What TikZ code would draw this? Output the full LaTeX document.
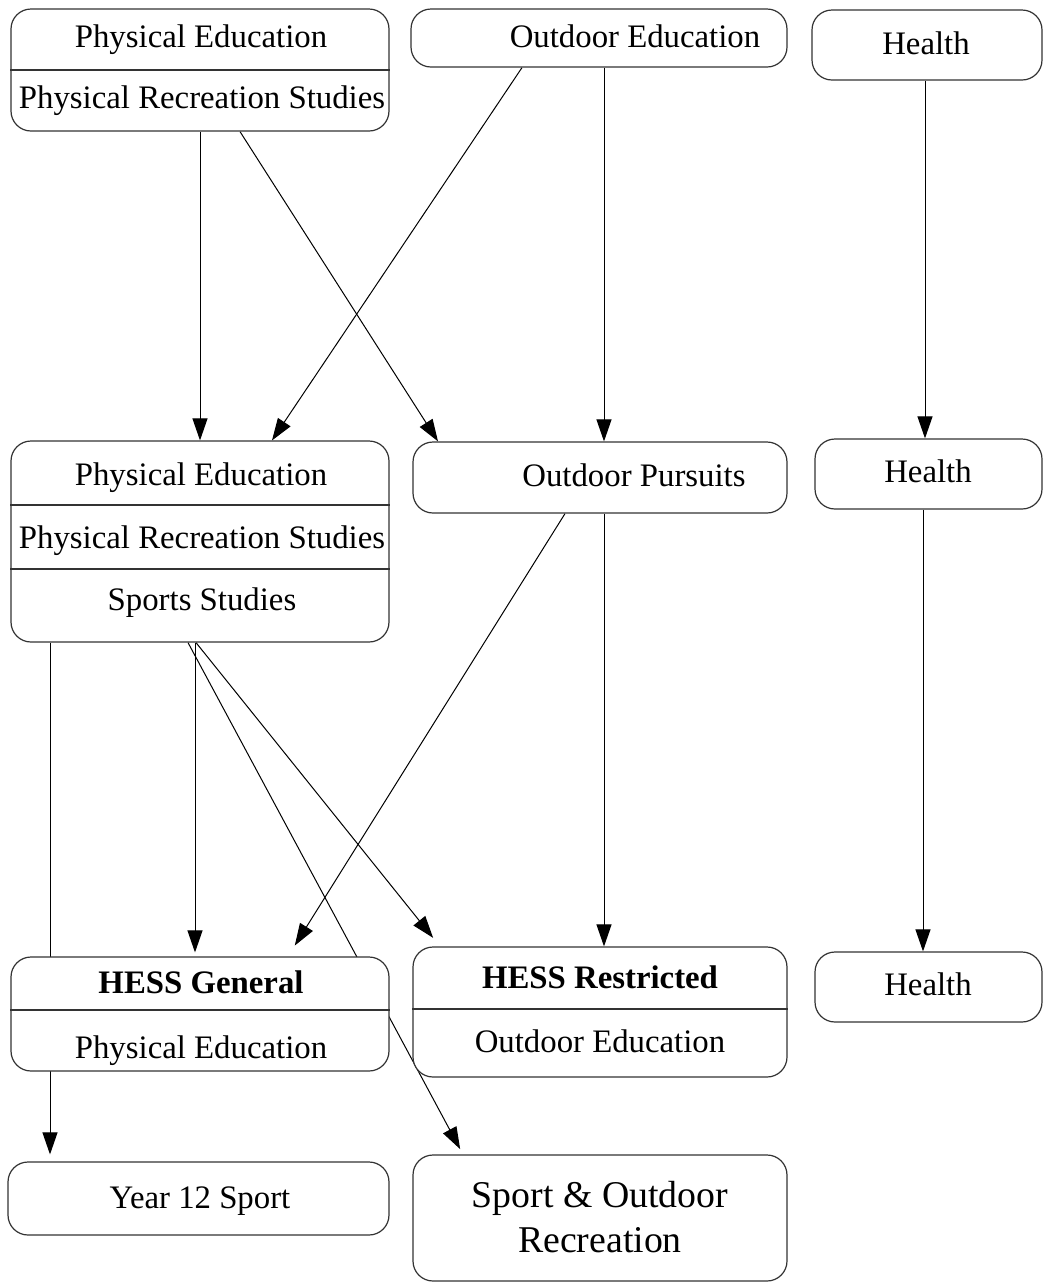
\documentclass[tikz,border=0pt]{standalone}
\usepackage{fontspec}
\setmainfont{Liberation Serif}
\usetikzlibrary{fit,backgrounds,arrows.meta}

\begin{document}
\begin{tikzpicture}[x=0.5pt,y=-0.5pt,
	box/.style={draw=black!80,line width=0.6pt,rounded corners=10pt,fill=white,inner sep=0pt},
	lbl/.style={anchor=base,inner sep=0pt,font=\fontsize{16.4}{19}\selectfont},
	hd/.style={lbl,font=\fontsize{16.4}{19}\selectfont\bfseries},
	arr/.style={-{Triangle[length=11pt,width=7.5pt]},line width=0.5pt},
	sep/.style={draw=black!80,line width=0.6pt}]
					\useasboundingbox (0,0) rectangle (1047,1282);
					\node[box,fit={(11,9) (389,131)}] (pe1) {};
					\node[box,fit={(411,9) (787,67)}] (oe) {};
					\node[box,fit={(812,10) (1042,80)}] (hl1) {};
					\node[box,fit={(11,441) (389,642)}] (pe2) {};
					\node[box,fit={(413,442) (787,513)}] (op) {};
					\node[box,fit={(815,439) (1042,509)}] (hl2) {};
					\node[box,fit={(11,957) (389,1071)}] (hg) {};
					\node[box,fit={(413,947) (787,1077)}] (hr) {};
					\node[box,fit={(815,952) (1042,1022)}] (hl3) {};
					\node[box,fit={(8,1162) (389,1235)}] (ys) {};
					\node[box,fit={(413,1155) (787,1281)}] (sor) {};
					\draw[sep] (pe1.west |- 0,70) -- (pe1.east |- 0,70);
					\draw[sep] (pe2.west |- 0,505) -- (pe2.east |- 0,505);
					\draw[sep] (pe2.west |- 0,569) -- (pe2.east |- 0,569);
					\draw[sep] (hg.west |- 0,1010) -- (hg.east |- 0,1010);
					\draw[sep] (hr.west |- 0,1009) -- (hr.east |- 0,1009);
					\node[lbl] (pe1a) at (201,47) {Physical Education};
					\node[lbl] (pe1b) at (202,108) {Physical Recreation Studies};
					\node[lbl] (oea) at (635,47) {Outdoor Education};
					\node[lbl] (hl1a) at (926,54) {Health};
					\node[lbl] (pe2a) at (201,485) {Physical Education};
					\node[lbl] (pe2b) at (202,548) {Physical Recreation Studies};
					\node[lbl] (pe2c) at (202,610) {Sports Studies};
					\node[lbl] (opa) at (634,486) {Outdoor Pursuits};
					\node[lbl] (hl2a) at (928,482) {Health};
					\node[hd] (hga) at (201,993) {HESS General};
					\node[lbl] (hgb) at (201,1058) {Physical Education};
					\node[hd] (hra) at (600,988) {HESS Restricted};
					\node[lbl] (hrb) at (600,1052) {Outdoor Education};
					\node[lbl] (hl3a) at (928,995) {Health};
					\node[lbl] (ysa) at (200,1208) {Year 12 Sport};
					\node[lbl,font=\fontsize{18.9}{22.5}\selectfont,align=center] (sora) at (600,1252) {Sport \& Outdoor\\Recreation};
					\begin{pgfonlayer}{background}
						\draw[arr] (pe1.south) -- (pe2.north);
						\draw[arr] (pe1.south -| 240,0) -- (op.north -| 438,0);
						\draw[arr] (oe.south -| 522,0) -- (pe2.north -| 272,0);
						\draw[arr] (oe.south -| 604,0) -- (op.north -| 604,0);
						\draw[arr] (hl1.south -| 925,0) -- (hl2.north -| 925,0);
						\draw[arr] (hl2.south -| 923,0) -- (hl3.north -| 923,0);
						\draw[arr,shorten >=3.5pt] (pe2.south -| 50,0) -- (ys.north -| 50,0);
						\draw[arr,shorten >=2pt] (pe2.south -| 195,0) -- (hg.north -| 195,0);
						\draw[arr,shorten >=5.5pt] (pe2.south -| 196,0) -- (hr.north -| 440,0);
						\draw[arr,shorten >=3pt] (pe2.south -| 188,0) -- (sor.north -| 463,0);
						\draw[arr,shorten >=6.4pt] (op.south -| 565,0) -- (hg.north -| 288,0);
						\draw[arr] (op.south -| 604,0) -- (hr.north -| 604,0);
					\end{pgfonlayer}
					\end{tikzpicture}
\end{document}
